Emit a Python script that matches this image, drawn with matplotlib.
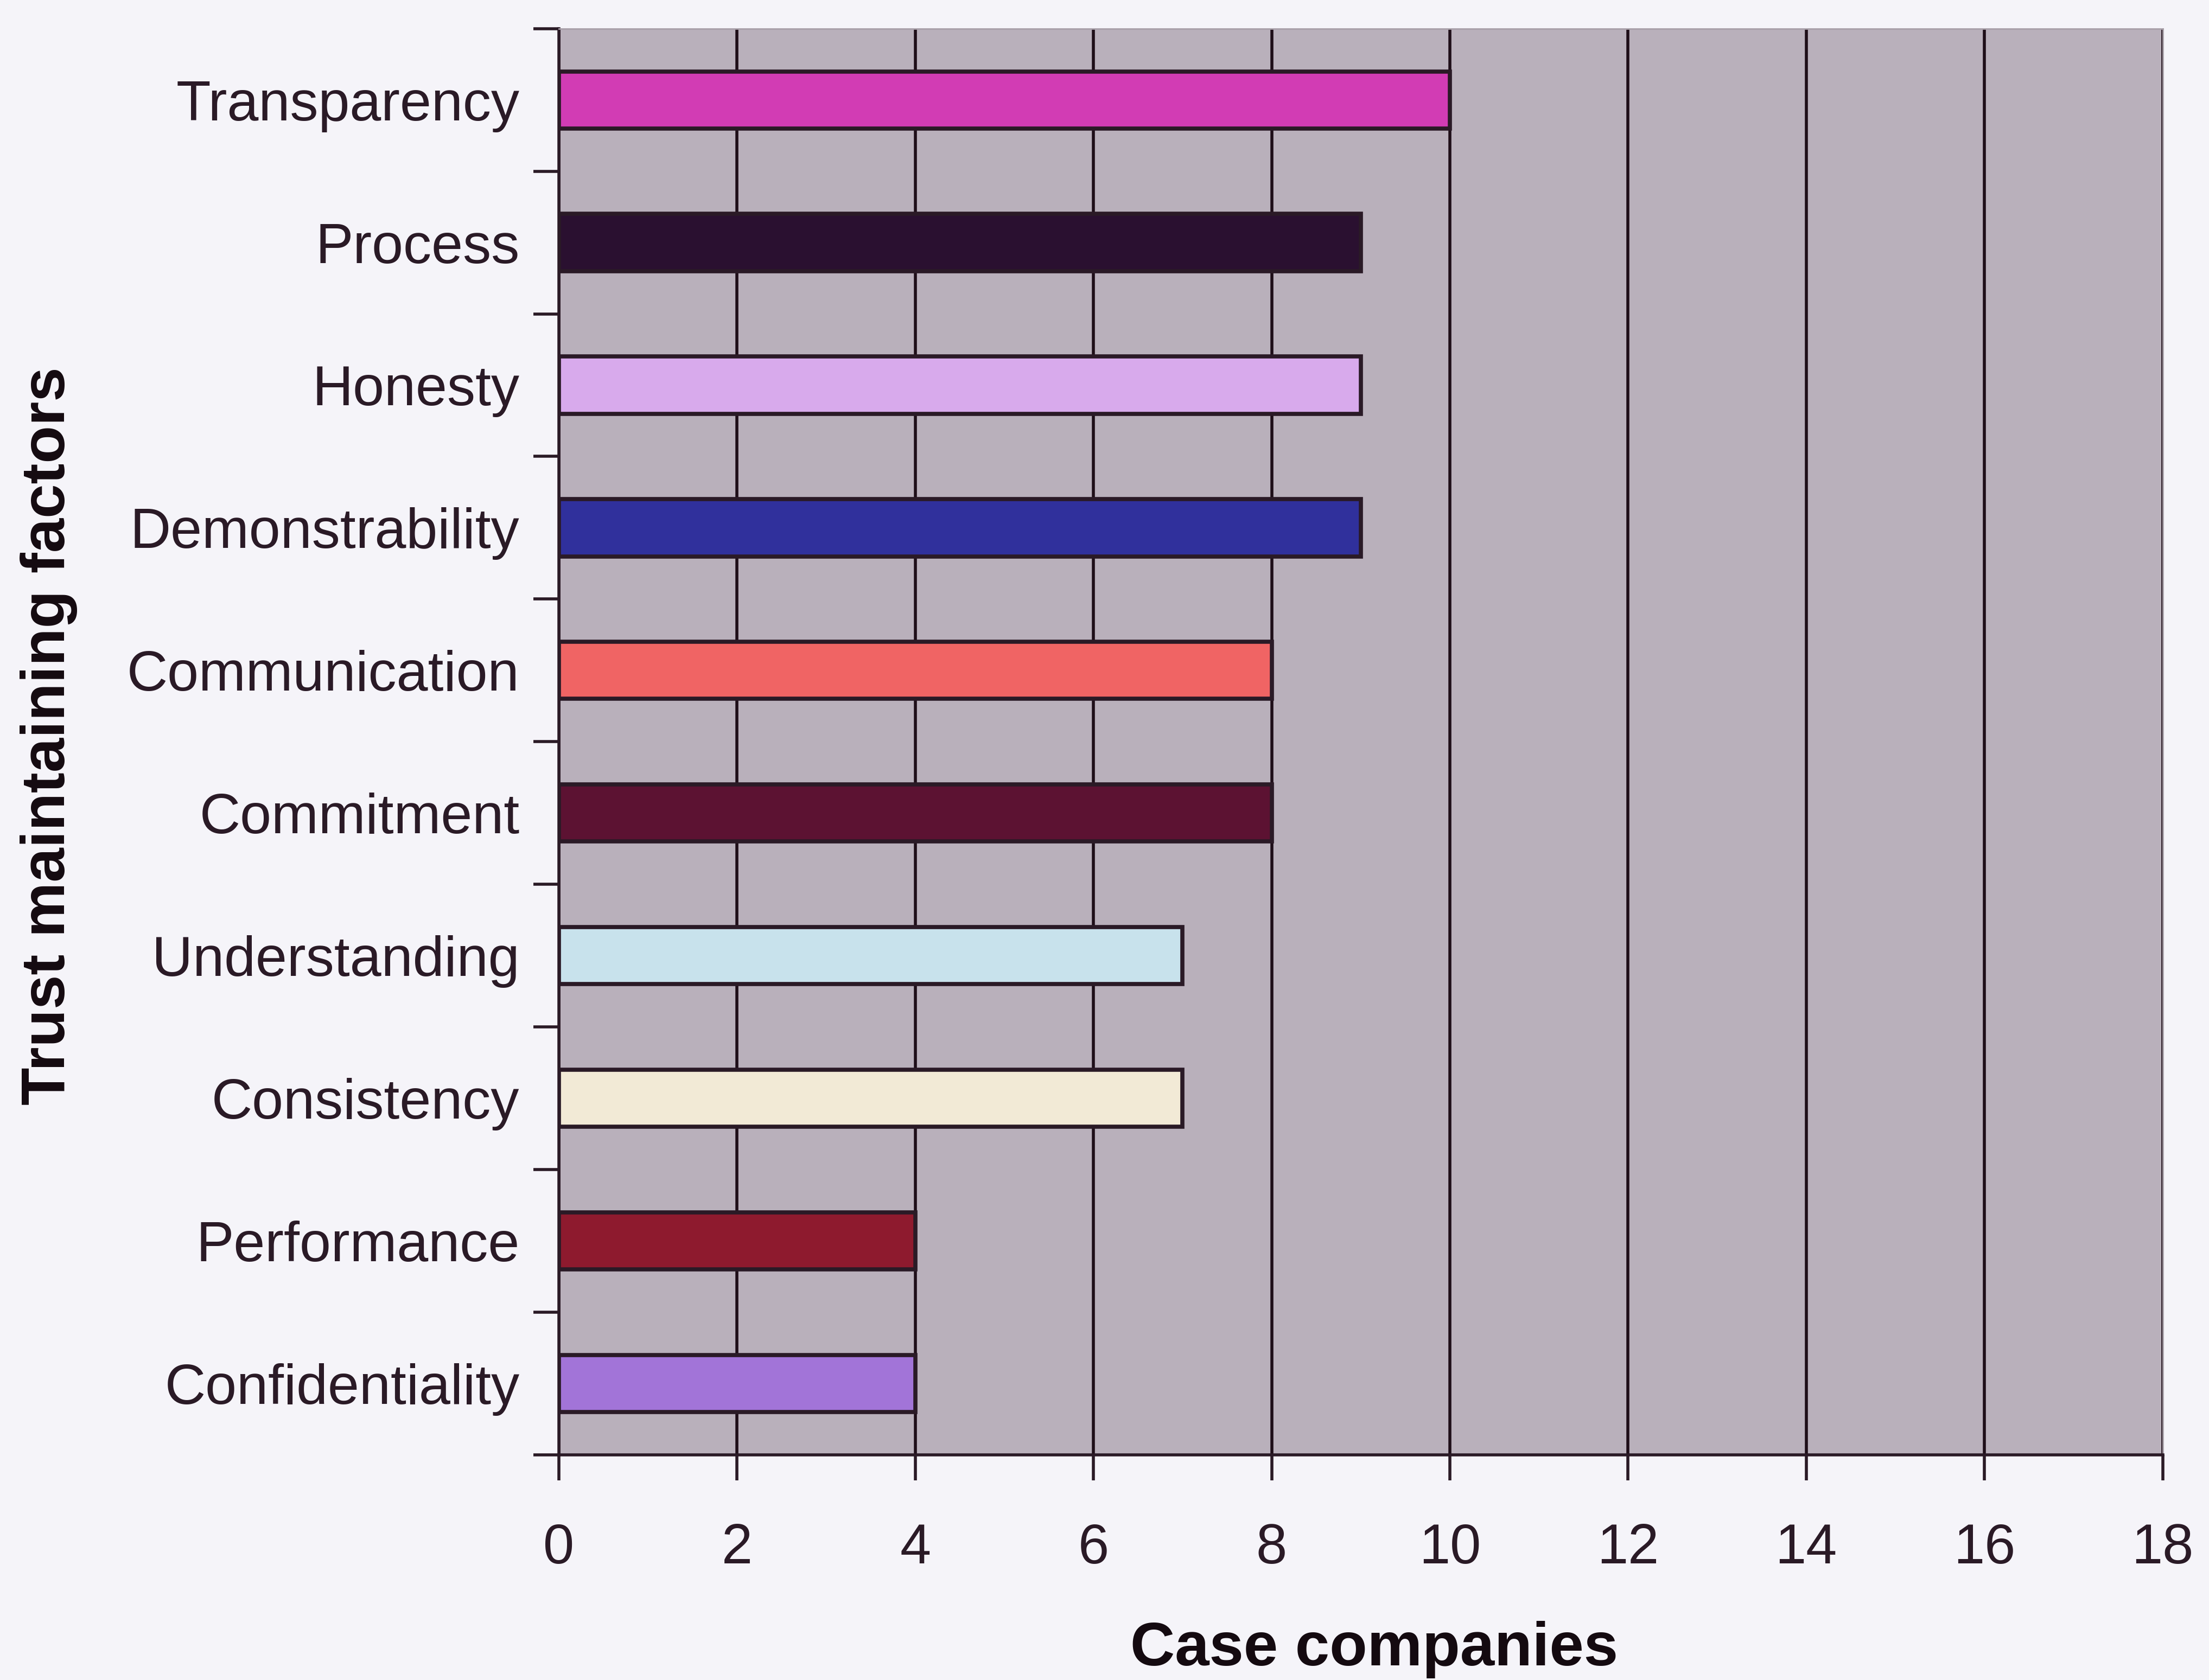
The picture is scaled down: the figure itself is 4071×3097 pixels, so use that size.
import numpy as np
import matplotlib.pyplot as plt

# trust maintaining factors, listed top to bottom
factors = ["Transparency", "Process", "Honesty", "Demonstrability", "Communication",
           "Commitment", "Understanding", "Consistency", "Performance", "Confidentiality"]
case_companies = [10, 9, 9, 9, 8, 8, 7, 7, 4, 4]
bar_colors = ["#d23cb4", "#2a1030", "#d8aaec", "#30309c", "#f06464",
              "#5c1232", "#c8e2ec", "#f2ead6", "#8e1a2e", "#a274d8"]
x_ticks = [0, 2, 4, 6, 8, 10, 12, 14, 16, 18]

ink = "#2a1a26"
plt.rcParams["font.family"] = ["Liberation Sans", "DejaVu Sans"]

fig = plt.figure(figsize=(40.71, 30.97), dpi=100, facecolor="#f5f4f9")
ax = fig.add_axes([0.253, 0.134, 0.726, 0.849])
ax.set_facecolor("#b9b0bb")

pos = np.arange(len(factors))
ax.barh(pos, case_companies, height=0.4, color=bar_colors,
        edgecolor=ink, linewidth=5.5, zorder=3)

ax.set_xlim(0, 18)
ax.set_ylim(len(factors) - 0.5, -0.5)

# vertical gridlines every 2
ax.set_xticks(x_ticks)
ax.xaxis.grid(True, color="#1e0e18", linewidth=4, zorder=1)
ax.set_axisbelow(True)
ax.tick_params(axis="x", direction="out", length=34, width=4, color=ink,
               labelsize=74, labelcolor=ink, pad=56)

# category ticks between bars, labels in the middle
ax.set_yticks(np.arange(len(factors) + 1) - 0.5)
ax.set_yticklabels([])
ax.set_yticks(pos, minor=True)
ax.set_yticklabels(factors, minor=True)
ax.tick_params(axis="y", which="major", direction="out", length=34, width=4, color=ink)
ax.tick_params(axis="y", which="minor", length=0, labelsize=75, labelcolor=ink, pad=52)

for side in ("left", "bottom"):
    ax.spines[side].set_color(ink)
    ax.spines[side].set_linewidth(4)
for side in ("top", "right"):
    ax.spines[side].set_color("#a89fa8")
    ax.spines[side].set_linewidth(2)

fig.text(0.622, 0.018, "Case companies", fontsize=82, fontweight="bold",
         color="#140a10", ha="center", va="center")
fig.text(0.022, 0.562, "Trust maintaining factors", fontsize=82, fontweight="bold",
         color="#140a10", ha="center", va="center", rotation=90)

fig.savefig("out.png", dpi=100, facecolor=fig.get_facecolor())
